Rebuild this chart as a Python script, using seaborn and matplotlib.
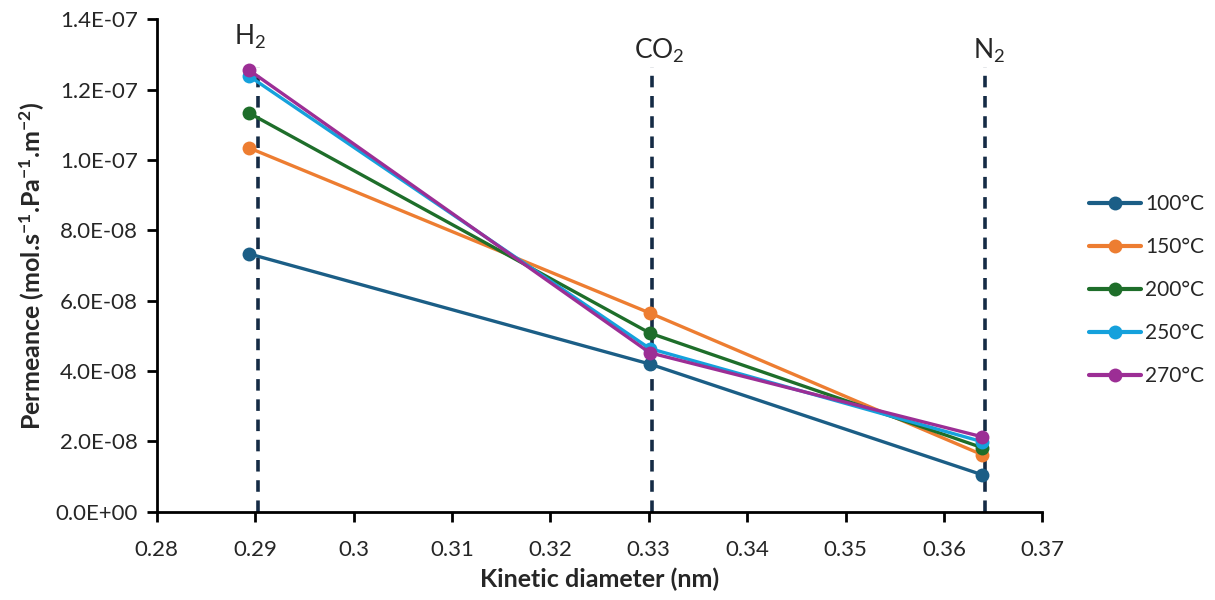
import matplotlib
matplotlib.use("Agg")
import matplotlib.pyplot as plt
import seaborn as sns
import pandas as pd
from matplotlib.ticker import FuncFormatter, MultipleLocator

# ---- data ----
gases = ["H$_2$", "CO$_2$", "N$_2$"]
diameters = [0.2894, 0.3301, 0.3639]
gas_line_x = [0.2903, 0.3303, 0.3642]
temps = ["100°C", "150°C", "200°C", "250°C", "270°C"]
perm_100 = [7.33e-8, 4.20e-8, 1.05e-8]
perm_150 = [1.034e-7, 5.65e-8, 1.62e-8]
perm_200 = [1.133e-7, 5.08e-8, 1.82e-8]
perm_250 = [1.238e-7, 4.64e-8, 1.99e-8]
perm_270 = [1.255e-7, 4.52e-8, 2.13e-8]
colors = ["#1b5e86", "#ed7d31", "#1e6e2a", "#15a1dc", "#9c2e95"]

series = [perm_100, perm_150, perm_200, perm_250, perm_270]
rows = []
for t, vals in zip(temps, series):
    for d, v in zip(diameters, vals):
        rows.append({"d": d, "p": v, "T": t})
df = pd.DataFrame(rows)

sns.set_style("white")
plt.rcParams["font.family"] = ["Lato", "DejaVu Sans"]
plt.rcParams["mathtext.default"] = "regular"
plt.rcParams["axes.unicode_minus"] = False

fig = plt.figure(figsize=(12.15, 6.0), dpi=100)
ax = fig.add_axes([0.129, 0.147, 0.729, 0.821])

# dashed gas lines
for gx, g in zip(gas_line_x, gases):
    ax.plot([gx, gx], [0, 1.265e-7], ls=(0, (3.2, 2.4)), color="#152b45", lw=2.6, zorder=1)

sns.lineplot(data=df, x="d", y="p", hue="T", hue_order=temps, palette=colors,
             marker="o", markersize=10, markeredgewidth=0, linewidth=2.4,
             ax=ax, zorder=3, legend=True)

ax.text(gas_line_x[0] - 0.0008, 1.31e-7, gases[0], fontsize=19, ha="center", va="bottom")
ax.text(gas_line_x[1] + 0.0008, 1.27e-7, gases[1], fontsize=19, ha="center", va="bottom")
ax.text(gas_line_x[2] + 0.0004, 1.27e-7, gases[2], fontsize=19, ha="center", va="bottom")

ax.set_xlim(0.28, 0.37)
ax.set_ylim(0, 1.4e-7)
ax.xaxis.set_major_locator(MultipleLocator(0.01))
ax.yaxis.set_major_locator(MultipleLocator(2e-8))
ax.xaxis.set_major_formatter(FuncFormatter(lambda v, p: f"{round(v, 2):g}"))
ax.yaxis.set_major_formatter(FuncFormatter(lambda v, p: f"{v:.1E}"))

for s in ["top", "right"]:
    ax.spines[s].set_visible(False)
for s in ["left", "bottom"]:
    ax.spines[s].set_color("black")
    ax.spines[s].set_linewidth(2.0)
ax.tick_params(axis="both", which="major", direction="out", length=7, width=2,
               color="black", labelsize=16, left=True, bottom=True)
ax.tick_params(axis="x", pad=13)
ax.tick_params(axis="y", pad=6.5)
ax.grid(False)

ax.set_xlabel("Kinetic diameter (nm)", fontsize=18, fontweight="bold", labelpad=6)
ax.set_ylabel("Permeance (mol.s$^{-1}$.Pa$^{-1}$.m$^{-2}$)", fontsize=18, fontweight="bold", labelpad=6)

leg = ax.legend(loc="center left", bbox_to_anchor=(1.052, 0.45), frameon=False,
                fontsize=15, title=None, handlelength=2.5, labelspacing=1.1,
                handletextpad=0.2, borderaxespad=0, borderpad=0)
for h in leg.legend_handles:
    h.set_linewidth(3)
    h.set_markersize(10)

fig.savefig("out.png", dpi=100)
